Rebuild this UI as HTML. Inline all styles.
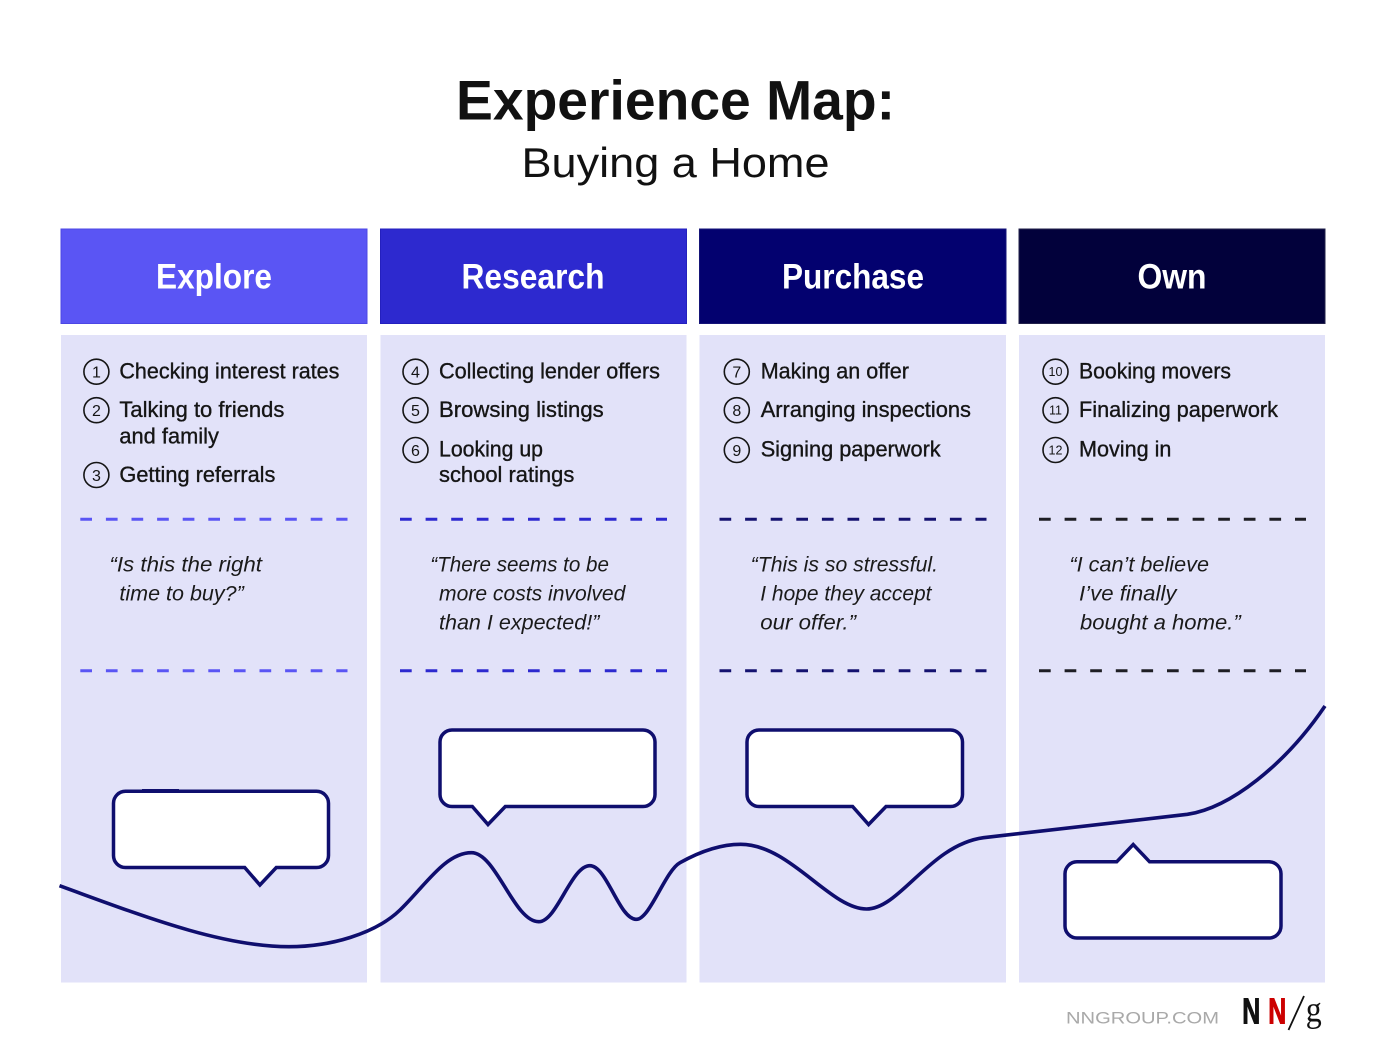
<!DOCTYPE html>
<html>
<head>
<meta charset="utf-8">
<style>
  html,body{margin:0;padding:0;background:#fff;}
  svg{display:block;}
  .t{font-family:"Liberation Sans",Arial,sans-serif;}
  .it{font-family:"Liberation Sans",Arial,sans-serif;font-style:italic;fill:#1a1a1a;font-size:21px;}
  .item{font-family:"Liberation Sans",Arial,sans-serif;fill:#151515;font-size:22px;stroke:#151515;stroke-width:0.35px;}
  .num{font-family:"Liberation Sans",Arial,sans-serif;fill:#151515;font-size:16px;text-anchor:middle;}
  .num2{font-family:"Liberation Sans",Arial,sans-serif;fill:#151515;font-size:12.5px;text-anchor:middle;}
  .hd{font-family:"Liberation Sans",Arial,sans-serif;font-weight:bold;fill:#fff;font-size:35px;text-anchor:middle;}
</style>
</head>
<body>
<svg width="1384" height="1062" viewBox="0 0 1384 1062" xmlns="http://www.w3.org/2000/svg">
  <rect width="1384" height="1062" fill="#ffffff"/>

  <!-- Title -->
  <text class="t" x="456" y="119.5" font-size="56" font-weight="bold" fill="#111" textLength="439" lengthAdjust="spacingAndGlyphs">Experience Map:</text>
  <text class="t" x="521.5" y="177" font-size="42" fill="#111" textLength="308" lengthAdjust="spacingAndGlyphs">Buying a Home</text>

  <!-- Headers -->
  <rect x="61" y="229" width="306" height="94.5" fill="#5a55f4" stroke="#4c47e4" stroke-width="1"/>
  <rect x="380.5" y="229" width="306" height="94.5" fill="#2d29cf" stroke="#2420be" stroke-width="1"/>
  <rect x="699.5" y="229" width="306.5" height="94.5" fill="#03016f" stroke="#151478" stroke-width="1"/>
  <rect x="1019" y="229" width="306" height="94.5" fill="#02013b" stroke="#22214a" stroke-width="1"/>

  <text class="hd" x="214" y="288.5" textLength="116" lengthAdjust="spacingAndGlyphs">Explore</text>
  <text class="hd" x="533" y="288.5" textLength="143" lengthAdjust="spacingAndGlyphs">Research</text>
  <text class="hd" x="853" y="288.5" textLength="142" lengthAdjust="spacingAndGlyphs">Purchase</text>
  <text class="hd" x="1172" y="288.5" textLength="69" lengthAdjust="spacingAndGlyphs">Own</text>

  <!-- Bodies -->
  <rect x="61" y="335" width="306" height="647.5" fill="#e2e2f9"/>
  <rect x="380.5" y="335" width="306" height="647.5" fill="#e2e2f9"/>
  <rect x="699.5" y="335" width="306.5" height="647.5" fill="#e2e2f9"/>
  <rect x="1019" y="335" width="306" height="647.5" fill="#e2e2f9"/>

  <!-- Item circles -->
  <g fill="none" stroke="#151515" stroke-width="1.6">
    <circle cx="96.4" cy="371.7" r="12.5"/>
    <circle cx="96.4" cy="410.2" r="12.5"/>
    <circle cx="96.4" cy="475" r="12.5"/>
    <circle cx="415.5" cy="371.7" r="12.5"/>
    <circle cx="415.5" cy="410.2" r="12.5"/>
    <circle cx="415.5" cy="450" r="12.5"/>
    <circle cx="736.8" cy="371.7" r="12.5"/>
    <circle cx="736.8" cy="410.2" r="12.5"/>
    <circle cx="736.8" cy="450" r="12.5"/>
    <circle cx="1055.5" cy="371.7" r="12.5"/>
    <circle cx="1055.5" cy="410.2" r="12.5"/>
    <circle cx="1055.5" cy="450" r="12.5"/>
  </g>
  <text class="num" x="96.4" y="377.5">1</text>
  <text class="num" x="96.4" y="416">2</text>
  <text class="num" x="96.4" y="480.8">3</text>
  <text class="num" x="415.5" y="377.5">4</text>
  <text class="num" x="415.5" y="416">5</text>
  <text class="num" x="415.5" y="455.8">6</text>
  <text class="num" x="736.8" y="377.5">7</text>
  <text class="num" x="736.8" y="416">8</text>
  <text class="num" x="736.8" y="455.8">9</text>
  <text class="num2" x="1055.5" y="376.2">10</text>
  <text class="num2" x="1055.5" y="414.7">11</text>
  <text class="num2" x="1055.5" y="454.5">12</text>

  <text class="item" x="119.4" y="378.5" textLength="220" lengthAdjust="spacingAndGlyphs">Checking interest rates</text>
  <text class="item" x="119.4" y="417" textLength="165" lengthAdjust="spacingAndGlyphs">Talking to friends</text>
  <text class="item" x="119.4" y="443.3" textLength="99.5" lengthAdjust="spacingAndGlyphs">and family</text>
  <text class="item" x="119.4" y="482" textLength="156" lengthAdjust="spacingAndGlyphs">Getting referrals</text>

  <text class="item" x="439" y="378.5" textLength="221" lengthAdjust="spacingAndGlyphs">Collecting lender offers</text>
  <text class="item" x="439" y="417" textLength="164.7" lengthAdjust="spacingAndGlyphs">Browsing listings</text>
  <text class="item" x="439" y="456.7" textLength="104" lengthAdjust="spacingAndGlyphs">Looking up</text>
  <text class="item" x="439" y="482" textLength="135.3" lengthAdjust="spacingAndGlyphs">school ratings</text>

  <text class="item" x="760.7" y="378.5" textLength="148.3" lengthAdjust="spacingAndGlyphs">Making an offer</text>
  <text class="item" x="760.7" y="417" textLength="210.3" lengthAdjust="spacingAndGlyphs">Arranging inspections</text>
  <text class="item" x="760.7" y="456.7" textLength="180" lengthAdjust="spacingAndGlyphs">Signing paperwork</text>

  <text class="item" x="1079" y="378.5" textLength="152" lengthAdjust="spacingAndGlyphs">Booking movers</text>
  <text class="item" x="1079" y="417" textLength="199" lengthAdjust="spacingAndGlyphs">Finalizing paperwork</text>
  <text class="item" x="1079" y="456.7" textLength="92.4" lengthAdjust="spacingAndGlyphs">Moving in</text>

  <!-- Dashed lines -->
  <g stroke-width="3" stroke-dasharray="11.7 13.9" fill="none">
    <line x1="80.3" y1="519.3" x2="347.5" y2="519.3" stroke="#5a55f4"/>
    <line x1="80.3" y1="670.7" x2="347.5" y2="670.7" stroke="#5a55f4"/>
    <line x1="400" y1="519.3" x2="667" y2="519.3" stroke="#2d29cf"/>
    <line x1="400" y1="670.7" x2="667" y2="670.7" stroke="#2d29cf"/>
    <line x1="719.5" y1="519.3" x2="986.5" y2="519.3" stroke="#141270"/>
    <line x1="719.5" y1="670.7" x2="986.5" y2="670.7" stroke="#141270"/>
    <line x1="1039" y1="519.3" x2="1306" y2="519.3" stroke="#1e1e24"/>
    <line x1="1039" y1="670.7" x2="1306" y2="670.7" stroke="#1e1e24"/>
  </g>

  <!-- Quotes -->
  <text class="it" x="109.4" y="571.7" textLength="152.6" lengthAdjust="spacingAndGlyphs">“Is this the right</text>
  <text class="it" x="119.4" y="600.5" textLength="124.4" lengthAdjust="spacingAndGlyphs">time to buy?”</text>

  <text class="it" x="430.3" y="571.7" textLength="178.7" lengthAdjust="spacingAndGlyphs">“There seems to be</text>
  <text class="it" x="439" y="600.5" textLength="186.4" lengthAdjust="spacingAndGlyphs">more costs involved</text>
  <text class="it" x="439" y="629.3" textLength="160.4" lengthAdjust="spacingAndGlyphs">than I expected!”</text>

  <text class="it" x="750.7" y="571.7" textLength="187.3" lengthAdjust="spacingAndGlyphs">“This is so stressful.</text>
  <text class="it" x="760.3" y="600.5" textLength="171.2" lengthAdjust="spacingAndGlyphs">I hope they accept</text>
  <text class="it" x="760.3" y="629.3" textLength="95.7" lengthAdjust="spacingAndGlyphs">our offer.”</text>

  <text class="it" x="1069.4" y="571.7" textLength="139.6" lengthAdjust="spacingAndGlyphs">“I can’t believe</text>
  <text class="it" x="1079" y="600.5" textLength="97.5" lengthAdjust="spacingAndGlyphs">I’ve finally</text>
  <text class="it" x="1080" y="629.3" textLength="160.7" lengthAdjust="spacingAndGlyphs">bought a home.”</text>

  <!-- Curve -->
  <path d="M 59.5 885.7
           C 139.5 914.7, 220 946.7, 289 946.7
           C 330 946.7, 375 934, 400 910
           C 425 886, 445 852.7, 471.5 852.7
           C 496 852.7, 514 921.7, 538.7 921.7
           C 557 921.7, 571 865.7, 589.9 865.7
           C 607 865.7, 619 919.3, 636.3 919.3
           C 650 919.3, 665 871, 680 862.7
           C 700 851.5, 720 844.3, 740.7 844.3
           C 790 844.3, 830 909, 866.5 909
           C 900 909, 930 845, 983.5 837.7
           L 1187.4 814.3
           C 1230 808, 1285 765, 1325 706"
        fill="none" stroke="#0f0e6e" stroke-width="3.6" stroke-linecap="butt" stroke-linejoin="round"/>

  <!-- Speech bubbles -->
  <g fill="#ffffff" stroke="#0f0e6e" stroke-width="3.5" stroke-linejoin="miter">
    <path d="M 125.5 791.3 H 316.5 A 12 12 0 0 1 328.5 803.3 V 855.5 A 12 12 0 0 1 316.5 867.5 H 276.3 L 259.9 885 L 244.7 867.5 H 125.5 A 12 12 0 0 1 113.5 855.5 V 803.3 A 12 12 0 0 1 125.5 791.3 Z"/>
    <path d="M 452 730 H 643 A 12 12 0 0 1 655 742 V 794.5 A 12 12 0 0 1 643 806.5 H 505.3 L 488 824.5 L 472.3 806.5 H 452 A 12 12 0 0 1 440 794.5 V 742 A 12 12 0 0 1 452 730 Z"/>
    <path d="M 759 730 H 950.5 A 12 12 0 0 1 962.5 742 V 794.5 A 12 12 0 0 1 950.5 806.5 H 886 L 868.6 824.5 L 852.6 806.5 H 759 A 12 12 0 0 1 747 794.5 V 742 A 12 12 0 0 1 759 730 Z"/>
    <path d="M 1077 861.8 H 1116.7 L 1133.2 844.5 L 1149.6 861.8 H 1269 A 12 12 0 0 1 1281 873.8 V 926 A 12 12 0 0 1 1269 938 H 1077 A 12 12 0 0 1 1065 926 V 873.8 A 12 12 0 0 1 1077 861.8 Z"/>
  </g>
  <rect x="142" y="789" width="37" height="2.2" fill="#0f0e6e"/>

  <!-- Footer logo -->
  <text class="t" x="1066" y="1023.3" font-size="17" fill="#a9a9a9" textLength="153" lengthAdjust="spacingAndGlyphs">NNGROUP.COM</text>
  <text class="t" x="1242.3" y="1023.3" font-size="36" font-weight="bold" fill="#111" stroke="#111" stroke-width="1" textLength="18" lengthAdjust="spacingAndGlyphs">N</text>
  <text class="t" x="1268.3" y="1023.3" font-size="36" font-weight="bold" fill="#cc0000" stroke="#cc0000" stroke-width="1" textLength="18" lengthAdjust="spacingAndGlyphs">N</text>
  <line x1="1288.5" y1="1030" x2="1304" y2="996" stroke="#111" stroke-width="1.8"/>
  <text x="1305.7" y="1021.5" font-family="'Liberation Serif',serif" font-size="36" fill="#111" textLength="16" lengthAdjust="spacingAndGlyphs">g</text>
</svg>
</body>
</html>
